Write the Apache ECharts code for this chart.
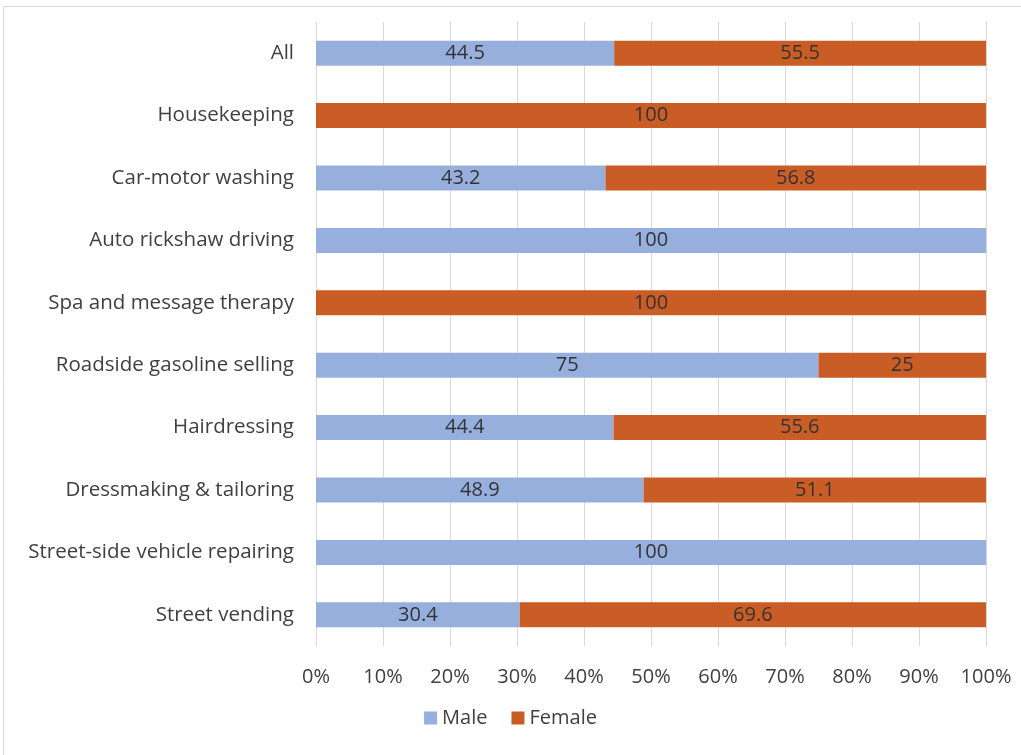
<!DOCTYPE html>
<html>
<head>
<meta charset="utf-8">
<script src="https://cdn.jsdelivr.net/npm/echarts@6/dist/echarts.min.js"></script>
<style>
  html, body { margin: 0; padding: 0; background: #fff; }
  #chart { width: 1021px; height: 755px; }
</style>
</head>
<body>
<div id="chart"></div>
<script>
// categories from top to bottom, as in the picture
const categories = [
  "All",
  "Housekeeping",
  "Car-motor washing",
  "Auto rickshaw driving",
  "Spa and message therapy",
  "Roadside gasoline selling",
  "Hairdressing",
  "Dressmaking & tailoring",
  "Street-side vehicle repairing",
  "Street vending"
];
const male = [44.5, 0, 43.2, 100, 0, 75, 44.4, 48.9, 100, 30.4];
const female = [55.5, 100, 56.8, 0, 100, 25, 55.6, 51.1, 0, 69.6];

const chart = echarts.init(document.getElementById("chart"));

const labelStyle = {
  show: true,
  position: "inside",
  color: "#333",
  fontSize: 20,
  fontFamily: "Open Sans",
  formatter: p => (p.value > 0 ? p.value : "")
};

const option = {
  backgroundColor: "#fff",
  animation: false,
  graphic: [
    {
      type: "rect",
      shape: { x: 3.5, y: 6.5, width: 1030, height: 760 },
      style: { fill: "none", stroke: "#d9d9d9", lineWidth: 1 },
      silent: true
    }
  ],
  grid: { left: 316, right: 35, top: 22, bottom: 109 },
  legend: {
    bottom: 22,
    left: "center",
    itemWidth: 13,
    itemHeight: 13,
    itemGap: 24,
    icon: "rect",
    textStyle: { fontSize: 20, color: "#404040", fontFamily: "Open Sans" },
    data: ["Male", "Female"]
  },
  xAxis: {
    type: "value",
    min: 0,
    max: 100,
    interval: 10,
    axisLine: { show: false },
    axisTick: { show: false },
    splitLine: { lineStyle: { color: "#d9d9d9", width: 1 } },
    axisLabel: {
      formatter: "{value}%",
      fontSize: 20,
      color: "#404040",
      fontFamily: "Open Sans",
      margin: 21
    }
  },
  yAxis: {
    type: "category",
    inverse: true,
    data: categories,
    axisLine: { show: false },
    axisTick: { show: false },
    axisLabel: {
      fontSize: 20.5,
      color: "#404040",
      fontFamily: "Open Sans",
      margin: 22
    }
  },
  series: [
    {
      name: "Male",
      type: "bar",
      stack: "total",
      barWidth: "40%",
      data: male,
      itemStyle: { color: "#97afdc" },
      label: labelStyle
    },
    {
      name: "Female",
      type: "bar",
      stack: "total",
      barWidth: "40%",
      data: female,
      itemStyle: { color: "#c95d25" },
      label: labelStyle
    }
  ]
};

chart.setOption(option);
</script>
</body>
</html>
